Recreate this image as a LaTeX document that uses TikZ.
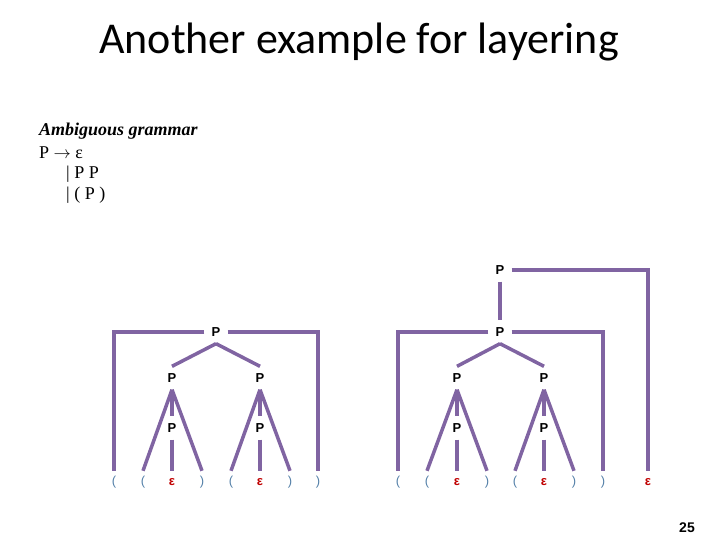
\documentclass[tikz,border=0pt]{standalone}
\usepackage{fontspec}
\setmainfont{Liberation Serif}
\setsansfont{Liberation Sans}
\newfontfamily\titlefont{Carlito}
\usepackage{xcolor}
\usepackage{tikz}
\usetikzlibrary{positioning}

\definecolor{treeline}{RGB}{128,100,162}
\definecolor{parencol}{RGB}{84,128,168}
\definecolor{epscol}{RGB}{192,0,0}

\begin{document}
\begin{tikzpicture}[
    x=1pt, y=-1pt,
    nt/.style={font=\sffamily\bfseries\fontsize{13}{15}\selectfont, inner sep=7pt},
    leaf/.style={font=\sffamily\fontsize{13}{15}\selectfont, text=parencol, inner sep=6pt, text height=8pt, text depth=2pt},
    eps/.style={leaf, text=epscol, font=\sffamily\bfseries\fontsize{13}{15}\selectfont},
    edge/.style={draw=treeline, line width=3.5pt}
]
    \useasboundingbox (0,0) rectangle (720,540);

    % heading and grammar
    \node (title) at (359,42) {\titlefont\fontsize{44}{50}\selectfont Another example for layering};
    \node [anchor=west, inner sep=0pt] (gram) at (39,131) {\fontsize{18}{21}\selectfont\bfseries\itshape Ambiguous grammar};
    \node [anchor=west, inner sep=0pt] (rule1) at (39,153) {\fontsize{18}{21}\selectfont P $\rightarrow$ ε};
    \node [anchor=west, inner sep=0pt] (rule2) at (66,174) {\fontsize{18}{21}\selectfont | P P};
    \node [anchor=west, inner sep=0pt] (rule3) at (66,195) {\fontsize{18}{21}\selectfont | ( P )};

    % inner nodes
    \node [nt] (top) at (500,270) {P};
    \node [nt] (pL) at (216,332) {P};
    \node [nt] (pR) at (500,332) {P};
    \node [nt] (pLa) at (172,378) {P};
    \node [nt] (pLb) at (260,378) {P};
    \node [nt] (pRa) at (457,378) {P};
    \node [nt] (pRb) at (544,378) {P};
    \node [nt] (pLam) at (172,428) {P};
    \node [nt] (pLbm) at (260,428) {P};
    \node [nt] (pRam) at (457,428) {P};
    \node [nt] (pRbm) at (544,428) {P};

    % leaves
    \node [leaf] (oL1) at (114,482) {(};
    \node [leaf] (oL2) at (143,482) {(};
    \node [eps] (eL1) at (172,482) {ε};
    \node [leaf] (cL1) at (202,482) {)};
    \node [leaf] (oL3) at (231,482) {(};
    \node [eps] (eL2) at (260,482) {ε};
    \node [leaf] (cL2) at (290,482) {)};
    \node [leaf] (cL3) at (318,482) {)};
    \node [leaf] (oR1) at (398,482) {(};
    \node [leaf] (oR2) at (427,482) {(};
    \node [eps] (eR1) at (457,482) {ε};
    \node [leaf] (cR1) at (487,482) {)};
    \node [leaf] (oR3) at (515,482) {(};
    \node [eps] (eR2) at (544,482) {ε};
    \node [leaf] (cR2) at (574,482) {)};
    \node [leaf] (cR3) at (603,482) {)};
    \node [eps] (eTop) at (648,482) {ε};

    % page number
    \node [font=\sffamily\bfseries\fontsize{14}{16}\selectfont] (page) at (687,528) {25};

    % top level
    \draw [edge] (top) -- (pR);
    \draw [edge] (top.east) -| (eTop.north);

    % left subtree
    \draw [edge] (pL.west) -| (oL1.north);
    \draw [edge] (pL.east) -| (cL3.north);
    \draw [edge] (pL.south) -- (pLa.north);
    \draw [edge] (pL.south) -- (pLb.north);
    \draw [edge] (pLa.south) -- (oL2.north);
    \draw [edge] (pLa.south) -- (cL1.north);
    \draw [edge] (pLa) -- (pLam);
    \draw [edge] (pLam) -- (eL1.north);
    \draw [edge] (pLb.south) -- (oL3.north);
    \draw [edge] (pLb.south) -- (cL2.north);
    \draw [edge] (pLb) -- (pLbm);
    \draw [edge] (pLbm) -- (eL2.north);

    % right subtree
    \draw [edge] (pR.west) -| (oR1.north);
    \draw [edge] (pR.east) -| (cR3.north);
    \draw [edge] (pR.south) -- (pRa.north);
    \draw [edge] (pR.south) -- (pRb.north);
    \draw [edge] (pRa.south) -- (oR2.north);
    \draw [edge] (pRa.south) -- (cR1.north);
    \draw [edge] (pRa) -- (pRam);
    \draw [edge] (pRam) -- (eR1.north);
    \draw [edge] (pRb.south) -- (oR3.north);
    \draw [edge] (pRb.south) -- (cR2.north);
    \draw [edge] (pRb) -- (pRbm);
    \draw [edge] (pRbm) -- (eR2.north);
\end{tikzpicture}
\end{document}
